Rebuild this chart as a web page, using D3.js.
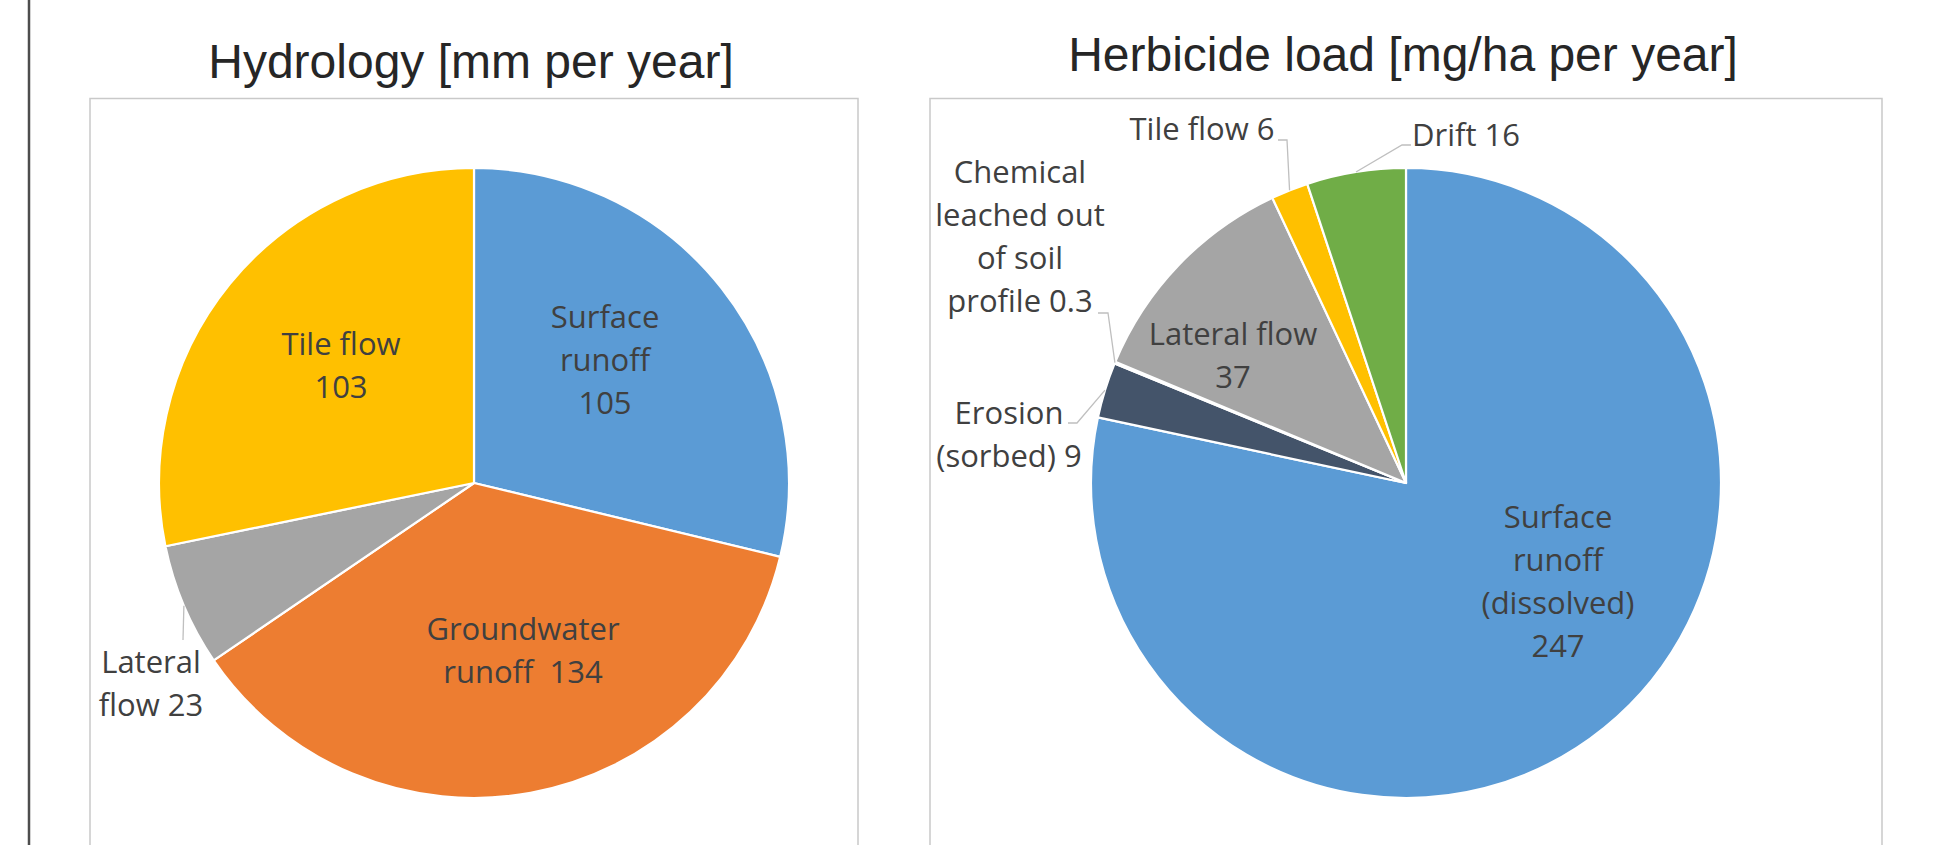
<!DOCTYPE html>
<html lang="en">
	<head>
		<meta charset="utf-8">
		<title>Hydrology and herbicide load</title>
		<script type="text/javascript" src="https://cdn.jsdelivr.net/npm/d3@7"></script>
		<style type="text/css">
			body { margin: 0; background: #fff; }
			.title { font-family: "Liberation Sans", Arial, sans-serif; font-size: 48px; fill: #262626; }
			.lbl { font-family: "Open Sans", sans-serif; font-size: 31px; fill: #404040; white-space: pre; }
		</style>
	</head>
	<body>
		<script type="text/javascript">

			// Hydrology pie
			var hydroCategories = ["Surface runoff", "Groundwater runoff", "Lateral flow", "Tile flow"];
			var hydroValues = [105, 134, 23, 103];
			var hydroLabels = [["Surface", "runoff", "{v}"], ["Groundwater", "runoff  {v}"], ["Lateral", "flow {v}"], ["Tile flow", "{v}"]];
			var hydroColors = ["#5B9BD5", "#ED7D31", "#A5A5A5", "#FFC000"];

			// Herbicide pie
			var herbCategories = ["Surface runoff (dissolved)", "Erosion (sorbed)", "Chemical leached out of soil profile", "Lateral flow", "Tile flow", "Drift"];
			var herbValues = [247, 9, 0.3, 37, 6, 16];
			var herbLabels = [["Surface", "runoff", "(dissolved)", "{v}"], ["Erosion", "(sorbed) {v}"], ["Chemical", "leached out", "of soil", "profile {v}"], ["Lateral flow", "{v}"], ["Tile flow {v}"], ["Drift {v}"]];
			var herbColors = ["#5B9BD5", "#44546A", "#ED7D31", "#A5A5A5", "#FFC000", "#70AD47"];

			//Width and height
			var w = 1954;
			var h = 845;
			var lineGap = 43;

			//Create SVG element
			var svg = d3.select("body")
						.append("svg")
						.attr("width", w)
						.attr("height", h);

			// left page edge line
			svg.append("line")
				.attr("x1", 29).attr("x2", 29)
				.attr("y1", 0).attr("y2", h)
				.attr("stroke", "#4d4d4d")
				.attr("stroke-width", 2.5);

			var charts = [
				{
					title: "Hydrology [mm per year]", titleX: 471, titleY: 78,
					frame: [90, 98.5, 768], cx: 474, cy: 483, r: 315,
					cats: hydroCategories, vals: hydroValues, labels: hydroLabels, colors: hydroColors,
					pos: [[605, 328], [523, 640], [151, 673], [341, 355]],
					leaders: [null, null, [[183, 640]], null]
				},
				{
					title: "Herbicide load [mg/ha per year]", titleX: 1403, titleY: 71,
					frame: [930, 98.5, 952], cx: 1406, cy: 483, r: 315,
					cats: herbCategories, vals: herbValues, labels: herbLabels, colors: herbColors,
					pos: [[1558, 528], [1009, 424], [1020, 183], [1233, 345], [1202, 140], [1466, 146]],
					leaders: [null, [[1068, 423], [1077, 423]], [[1098, 313], [1108, 313]], null, [[1278, 140], [1287, 140]], [[1411, 145], [1402, 145]]]
				}
			];

			charts.forEach(function(c) {

				// plot area frame
				svg.append("rect")
					.attr("x", c.frame[0])
					.attr("y", c.frame[1])
					.attr("width", c.frame[2])
					.attr("height", 900)
					.attr("fill", "none")
					.attr("stroke", "#c9c9c9")
					.attr("stroke-width", 1.5);

				svg.append("text")
					.attr("class", "title")
					.attr("x", c.titleX)
					.attr("y", c.titleY)
					.attr("text-anchor", "middle")
					.text(c.title);

				var pie = d3.pie()
					.sort(null)
					.value(function(d) { return d; });

				var arcs = pie(c.vals);

				var arc = d3.arc()
					.innerRadius(0)
					.outerRadius(c.r);

				var edge = d3.arc()
					.innerRadius(c.r)
					.outerRadius(c.r);

				var g = svg.append("g")
					.attr("transform", "translate(" + c.cx + "," + c.cy + ")");

				g.selectAll("path")
					.data(arcs)
					.enter()
					.append("path")
					.attr("d", arc)
					.attr("fill", function(d, i) { return c.colors[i]; })
					.attr("stroke", "#fff")
					.attr("stroke-width", 2.2)
					.attr("stroke-linejoin", "round")
					.append("title")
					.text(function(d, i) { return c.cats[i] + ": " + d.value; });

				// leader lines
				arcs.forEach(function(d, i) {
					if (!c.leaders[i]) return;
					var p = edge.centroid(d);
					var pts = c.leaders[i].concat([[c.cx + p[0], c.cy + p[1]]]);
					svg.append("path")
						.attr("d", d3.line()(pts))
						.attr("fill", "none")
						.attr("stroke", "#bfbfbf")
						.attr("stroke-width", 1.3);
				});

				// data labels
				arcs.forEach(function(d, i) {
					var t = svg.append("text")
						.attr("class", "lbl")
						.attr("text-anchor", "middle");
					c.labels[i].forEach(function(s, j) {
						t.append("tspan")
							.attr("x", c.pos[i][0])
							.attr("y", c.pos[i][1] + j * lineGap)
							.text(s.replace("{v}", d.value));
					});
				});
			});

		</script>
	</body>
</html>
